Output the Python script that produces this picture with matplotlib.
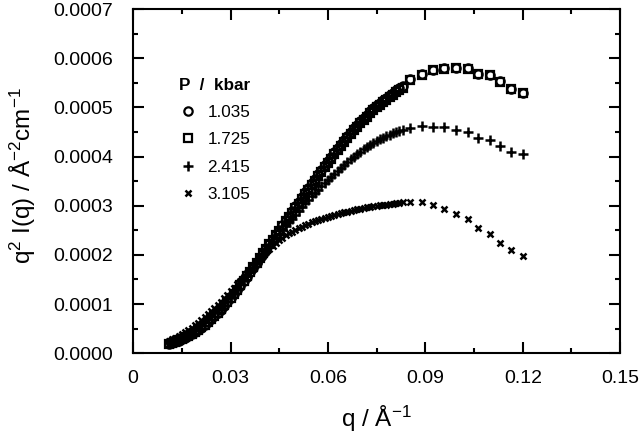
import numpy as np
import matplotlib
matplotlib.use('Agg')
from matplotlib import pyplot as plt
from matplotlib.ticker import MultipleLocator, FixedLocator, FuncFormatter

plt.rcParams['font.family'] = ['Liberation Sans', 'DejaVu Sans']
plt.rcParams['mathtext.fontset'] = 'custom'
plt.rcParams['mathtext.rm'] = 'Liberation Sans'
plt.rcParams['mathtext.it'] = 'Liberation Sans:italic'

# q values (1/A): densely sampled part and the sparse tail
q_dense = [0.011, 0.012, 0.013, 0.014, 0.015, 0.016, 0.017, 0.018, 0.019, 0.020,
           0.021, 0.022, 0.023, 0.024, 0.025, 0.026, 0.027, 0.028, 0.029, 0.030,
           0.031, 0.032, 0.033, 0.034, 0.035, 0.036, 0.037, 0.038, 0.039, 0.040,
           0.041, 0.042, 0.043, 0.044, 0.045, 0.046, 0.047, 0.048, 0.049, 0.050,
           0.051, 0.052, 0.053, 0.054, 0.055, 0.056, 0.057, 0.058, 0.059, 0.060,
           0.061, 0.062, 0.063, 0.064, 0.065, 0.066, 0.067, 0.068, 0.069, 0.070,
           0.071, 0.072, 0.073, 0.074, 0.075, 0.076, 0.077, 0.078, 0.079, 0.080,
           0.081, 0.082, 0.083]
q_tail = [0.0853, 0.0889, 0.0923, 0.0958, 0.0994, 0.1031, 0.1063, 0.1099, 0.1130, 0.1163, 0.1202]

# q^2 I(q) in units of 1e-6
p1035 = [18, 20, 22.5, 25, 28, 31, 34.5, 38.5, 42.5, 47,
         52, 57, 62.5, 68.5, 75, 81.5, 88.5, 96, 104, 112,
         120, 128.5, 137, 146, 155, 164.5, 174, 183.5, 193.5, 203.5,
         213.5, 223, 232.5, 242, 251.5, 261, 270.5, 280, 289.5, 299,
         308.5, 318, 327.5, 337, 346, 355, 364, 373, 382, 390.5,
         399.5, 408.5, 417, 425.5, 434, 442, 450, 457.5, 465, 472,
         479, 485.5, 492, 498, 504, 509.5, 515, 520, 525, 530,
         534.5, 539, 543,
         557, 568, 576, 580, 580, 580, 568, 566, 553, 537, 530]
p1725 = [18.5, 21, 23.5, 26, 29, 32, 35.5, 39.5, 43.5, 48,
         53, 58, 63.5, 69.5, 76, 82.5, 89.5, 97, 105, 113,
         121, 129.5, 138, 147, 156, 165, 174.5, 184, 193.5, 203,
         212.5, 222, 231, 240.5, 249.5, 259, 268, 277, 286, 295,
         304.5, 314, 323.5, 333, 342, 351, 360, 369, 378, 386.5,
         395.5, 404.5, 413, 421.5, 430, 438, 446, 453.5, 461, 468,
         475, 481.5, 488, 494, 500, 505.5, 511, 516, 521, 526,
         530.5, 535, 539,
         556, 567, 577, 579, 581, 579, 569, 565, 552, 538, 529]
p2415 = [21.5, 24, 27, 30, 33.5, 37, 41, 45, 49.5, 54,
         59, 64.5, 70, 76, 82, 88.5, 95, 102, 109.5, 117,
         125, 133, 141, 149, 157.5, 166, 174.5, 183, 191.5, 200,
         208.5, 217, 225.5, 234, 242, 250, 258, 266, 274, 282,
         290, 297.5, 305, 312, 319, 326, 333, 339.5, 346, 352,
         358, 364, 370.5, 377, 383, 389, 394.5, 400, 405, 410,
         414.5, 419, 423, 427, 431, 435, 438.5, 441.5, 444.5, 447.5,
         450, 452.5, 455,
         458, 462, 461, 460, 454, 451, 437, 434, 422, 410, 405]
p3105 = [25, 28, 31.5, 35, 39, 43, 47.5, 52, 57, 62,
         67.5, 73, 79, 85, 91.5, 98, 104.5, 111.5, 118.5, 125.5,
         132.5, 140, 147.5, 155, 162.5, 170, 177.5, 184.5, 191.5, 198,
         205, 212, 218.5, 224.5, 230, 235, 239.5, 243.5, 247.5, 251,
         254.5, 257.5, 260.5, 263.5, 266, 268.5, 271, 273.5, 275.5, 277.5,
         279.5, 281.5, 283.5, 285, 286.5, 288, 289.5, 291, 292.5, 294,
         295, 296.5, 297.5, 298.5, 299.5, 300.5, 301.5, 302.5, 303.5, 304.5,
         305.5, 306.5, 307,
         308, 307, 301, 293, 283, 272, 254, 242, 225, 209, 198]

q = np.array(q_dense + q_tail)

fig = plt.figure(figsize=(6.4, 4.36), dpi=100)
ax = fig.add_axes([0.208, 0.19, 0.761, 0.789])

ax.plot(q, np.array(p1035) * 1e-6, 'o', ms=6, mfc='none', mec='black', mew=1.6, label='1.035')
ax.plot(q, np.array(p1725) * 1e-6, 's', ms=5.5, mfc='none', mec='black', mew=1.6, label='1.725')
ax.plot(q, np.array(p2415) * 1e-6, '+', ms=6.5, mec='black', mew=1.8, label='2.415')
ax.plot(q, np.array(p3105) * 1e-6, 'x', ms=5, mec='black', mew=1.8, label='3.105')

ax.set_xlim(0, 0.15)
ax.set_ylim(0, 0.0007)
ax.xaxis.set_major_locator(FixedLocator([0, 0.03, 0.06, 0.09, 0.12, 0.15]))
ax.xaxis.set_minor_locator(MultipleLocator(0.015))
ax.yaxis.set_major_locator(FixedLocator([0, 0.0001, 0.0002, 0.0003, 0.0004, 0.0005, 0.0006, 0.0007]))
ax.yaxis.set_minor_locator(MultipleLocator(0.00005))
ax.xaxis.set_major_formatter(FuncFormatter(lambda v, p: '0' if v == 0 else '%g' % round(v, 3)))
ax.yaxis.set_major_formatter(FuncFormatter(lambda v, p: '%.4f' % v))

ax.tick_params(which='both', direction='in', top=True, right=True, width=1.5, labelsize=14)
ax.tick_params(which='major', length=8)
ax.tick_params(which='minor', length=3.6)
ax.tick_params(axis='x', pad=12)
ax.tick_params(axis='y', pad=14.4)
for s in ax.spines.values():
    s.set_linewidth(1.5)

ax.set_xlabel(r'q / Å$^{\mathregular{-1}}$', fontsize=17.5, labelpad=12.5)
ax.set_ylabel(r'q$^{\mathregular{2}}$ I(q) / Å$^{\mathregular{-2}}$cm$^{\mathregular{-1}}$', fontsize=17.5)
ax.yaxis.set_label_coords(-0.195, 0.516)

ax.legend(loc='upper left', bbox_to_anchor=(0.0626, 0.846), frameon=False,
          title='P  /  kbar', title_fontproperties={'weight': 'bold', 'size': 12.3},
          fontsize=12.3, handlelength=1.0, handletextpad=0.67, labelspacing=0.73,
          alignment='left')

fig.savefig('out.png', dpi=100)
